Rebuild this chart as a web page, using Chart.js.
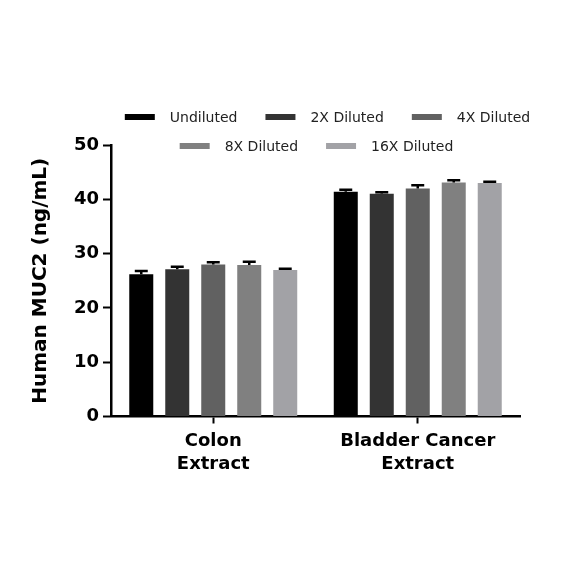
<!DOCTYPE html>
<html>
<head>
<meta charset="utf-8">
<script src="https://cdn.jsdelivr.net/npm/chart.js@4"></script>
<style>
  html, body { margin: 0; padding: 0; background: #fff; }
  #wrap { width: 584px; height: 584px; }
</style>
</head>
<body>
<div id="wrap"><canvas id="chart" width="584" height="584"></canvas></div>
<script>
// --- data ---
const categories = [['Colon', 'Extract'], ['Bladder Cancer', 'Extract']];
const seriesNames = ['Undiluted', '2X Diluted', '4X Diluted', '8X Diluted', '16X Diluted'];
const seriesColors = ['#000000', '#333333', '#616161', '#808080', '#a2a2a6'];

const undiluted = [26.2, 41.4];
const diluted2x = [27.1, 41.0];
const diluted4x = [28.0, 42.0];
const diluted8x = [27.9, 43.1];
const diluted16x = [27.0, 43.0];

const undilutedErr = [0.6, 0.35];
const diluted2xErr = [0.5, 0.3];
const diluted4xErr = [0.4, 0.6];
const diluted8xErr = [0.6, 0.4];
const diluted16xErr = [0.2, 0.25];

const yTicks = [0, 10, 20, 30, 40, 50];

const seriesValues = [undiluted, diluted2x, diluted4x, diluted8x, diluted16x];
const seriesErrors = [undilutedErr, diluted2xErr, diluted4xErr, diluted8xErr, diluted16xErr];

const FONT = "'DejaVu Sans', sans-serif";

// upper SEM whiskers drawn from the bar elements + y scale
const errorBars = {
    id: 'errorBars',
    afterDatasetsDraw(chart) {
        const ctx = chart.ctx;
        const y = chart.scales.y;
        ctx.save();
        ctx.strokeStyle = '#000';
        ctx.lineWidth = 2.5;
        chart.data.datasets.forEach((ds, di) => {
            const meta = chart.getDatasetMeta(di);
            meta.data.forEach((bar, i) => {
                const top = y.getPixelForValue(ds.data[i] + ds.errors[i]);
                const half = bar.width * 0.27;
                ctx.beginPath();
                ctx.moveTo(bar.x, bar.y);
                ctx.lineTo(bar.x, top);
                ctx.moveTo(bar.x - half, top);
                ctx.lineTo(bar.x + half, top);
                ctx.stroke();
            });
        });
        ctx.restore();
    }
};

// two-row legend that sits partly over the plot top, like the original
const twoRowLegend = {
    id: 'twoRowLegend',
    afterDraw(chart) {
        const ctx = chart.ctx;
        const area = chart.chartArea;
        const rows = [[0, 1, 2], [3, 4]];
        const rowY = [area.top - 28, area.top + 1];
        const rowShift = [12, 1];
        const boxW = 30, boxH = 6, textGap = 15, itemGap = 28;
        ctx.save();
        ctx.font = '14px ' + FONT;
        ctx.textBaseline = 'middle';
        ctx.textAlign = 'left';
        rows.forEach((row, r) => {
            const widths = row.map(i => boxW + textGap + ctx.measureText(chart.data.datasets[i].label).width);
            const total = widths.reduce((a, b) => a + b, 0) + itemGap * (row.length - 1);
            let x = (area.left + area.right) / 2 + rowShift[r] - total / 2;
            row.forEach((i, k) => {
                const ds = chart.data.datasets[i];
                ctx.fillStyle = ds.backgroundColor;
                ctx.fillRect(x, rowY[r] - boxH / 2, boxW, boxH);
                ctx.fillStyle = '#222';
                ctx.fillText(ds.label, x + boxW + textGap, rowY[r] + 1);
                x += widths[k] + itemGap;
            });
        });
        ctx.restore();
    }
};

new Chart(document.getElementById('chart').getContext('2d'), {
    type: 'bar',
    data: {
        labels: categories,
        datasets: seriesNames.map((name, i) => ({
            label: name,
            data: seriesValues[i],
            errors: seriesErrors[i],
            backgroundColor: seriesColors[i],
            borderWidth: 0,
            categoryPercentage: 0.88,
            barPercentage: 0.667
        }))
    },
    options: {
        responsive: false,
        animation: false,
        layout: { padding: { left: 25, right: 64, top: 145, bottom: 0 } },
        plugins: {
            legend: { display: false },
            tooltip: { enabled: false }
        },
        scales: {
            x: {
                grid: {
                    offset: false,
                    drawOnChartArea: false,
                    drawTicks: true,
                    tickLength: 7,
                    tickWidth: 2,
                    tickColor: '#000'
                },
                border: { color: '#000', width: 2.5 },
                ticks: {
                    color: '#000',
                    padding: 6,
                    maxRotation: 0,
                    font: { family: FONT, size: 18, weight: 'bold', lineHeight: 1.3 }
                },
                afterFit(scale) { scale.height = 584 - 416.5; }
            },
            y: {
                min: 0,
                max: 50,
                afterBuildTicks(scale) { scale.ticks = yTicks.map(v => ({ value: v })); },
                grid: {
                    drawOnChartArea: false,
                    drawTicks: true,
                    tickLength: 8,
                    tickWidth: 2,
                    tickColor: '#000'
                },
                border: { color: '#000', width: 2.5 },
                ticks: {
                    color: '#000',
                    padding: 4,
                    font: { family: FONT, size: 18, weight: 'bold' }
                },
                title: {
                    display: true,
                    text: 'Human MUC2 (ng/mL)',
                    color: '#000',
                    font: { family: FONT, size: 20, weight: 'bold' },
                    padding: { top: 4, bottom: 4 }
                },
                afterFit(scale) { scale.width = 111 - 25; }
            }
        }
    },
    plugins: [errorBars, twoRowLegend]
});
</script>
</body>
</html>
